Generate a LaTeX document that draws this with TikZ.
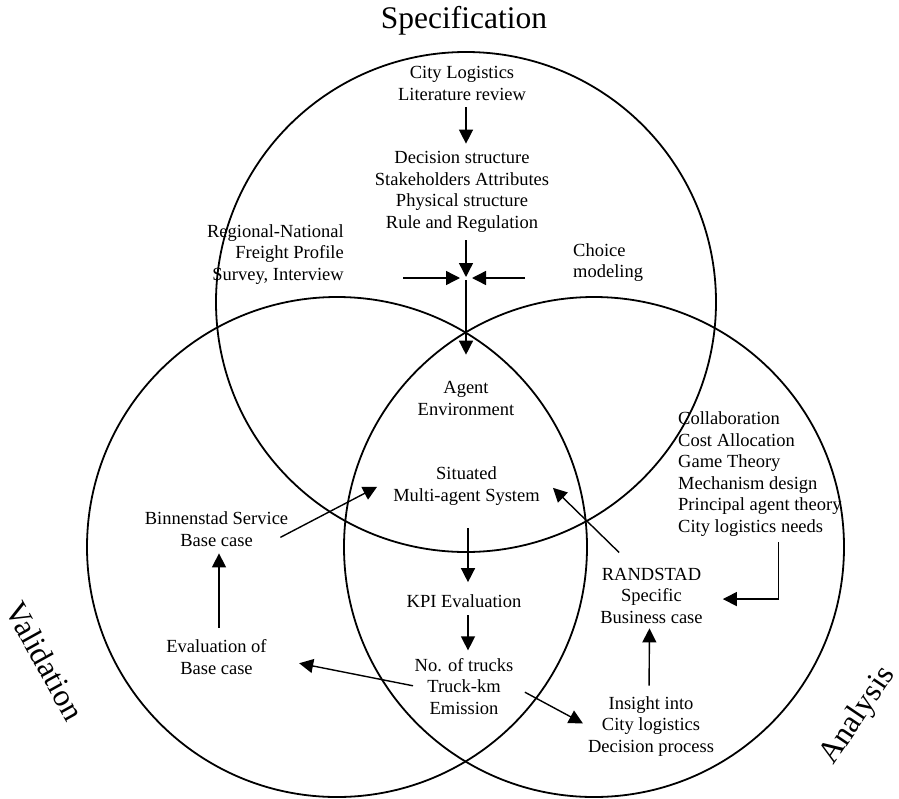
\documentclass[tikz,border=0pt]{standalone}
\usepackage{fontspec}
\setmainfont{Liberation Serif}
\usetikzlibrary{arrows.meta,calc}
\begin{document}
\begin{tikzpicture}[x=1pt,y=-1pt,
  ring/.style={line width=1.8pt},
  link/.style={line width=1.4pt,-{Triangle[length=14pt,width=14pt]}},
  txt/.style={inner sep=0pt,align=center,font=\fontsize{18.5}{21.5}\selectfont},
  head/.style={inner sep=0pt,font=\fontsize{31.5}{36}\selectfont}]
\useasboundingbox (0,0) rectangle (899,798);

% the three overlapping circles
\draw[ring] (466,302) circle[radius=250pt];
\draw[ring] (337,547) circle[radius=250pt];
\draw[ring] (594,547) circle[radius=250pt];

% circle titles
\node[head, anchor=base] (spec) at (464,28) {Specification};
\node[head, rotate=-61] (valid) at (45,661) {Validation};
\node[head, rotate=56] (anal) at (858,716) {Analysis};

% text blocks (base anchor = baseline of the last line)
\node[txt, anchor=base] (lit) at (462,100) {City Logistics\\Literature review};
\node[txt, anchor=base] (dec) at (462,228) {Decision structure\\Stakeholders Attributes\\Physical structure\\Rule and Regulation};
\node[txt, align=right, anchor=base east] (reg) at (344,280) {Regional-National\\Freight Profile\\Survey, Interview};
\node[txt, align=left, anchor=base west] (choice) at (573,277.5) {Choice\\modeling};
\node[txt, anchor=base] (agent) at (466,415) {Agent\\Environment};
\node[txt, anchor=base] (mas) at (466.5,501) {Situated\\Multi-agent System};
\node[txt, anchor=base] (binn) at (216.5,546) {Binnenstad Service\\Base case};
\node[txt, anchor=base] (evalb) at (216.5,674) {Evaluation of\\Base case};
\node[txt, anchor=base] (kpi) at (464,607) {KPI Evaluation};
\node[txt, anchor=base] (trucks) at (464,714) {No. of trucks\\Truck-km\\Emission};
\node[txt, align=left, anchor=base west] (collab) at (678,532) {Collaboration\\Cost Allocation\\Game Theory\\Mechanism design\\Principal agent theory\\City logistics needs};
\node[txt, anchor=base] (rand) at (651.5,623) {RANDSTAD\\Specific\\Business case};
\node[txt, anchor=base] (insight) at (651,752) {Insight into\\City logistics\\Decision process};

% junction where the specification inputs meet
\coordinate (j) at (466,278);
\coordinate (jl) at (403,278);
\coordinate (jr) at (525,278);

% connectors
\draw[link, shorten <=7pt, shorten >=7.4pt] (lit.south -| j) -- (dec.north -| j);
\draw[link, shorten <=8pt, shorten >=1pt] (dec.south -| j) -- (j);
\draw[link, shorten >=6pt] (jl) -- (j);
\draw[link, shorten >=6pt] (jr) -- (j);
\draw[link, shorten <=2pt, shorten >=26.4pt] (j) -- (agent.north -| j);
\draw[link, shorten <=23pt, shorten >=11.8pt] ([xshift=1.5pt]mas.south) -- ([xshift=1.5pt]mas.south |- kpi.north);
\draw[link, shorten <=8pt, shorten >=7.4pt] ([xshift=4pt]kpi.south) -- ([xshift=4pt]trucks.north);
\draw[link, shorten <=1.5pt, shorten >=33pt] (trucks.west) -- (evalb.east);
\draw[link, shorten <=12.9pt, shorten >=5.6pt] (trucks.east) -- (insight.west);
\draw[link, shorten <=11.4pt, shorten >=7pt] ([xshift=2.5pt]evalb.north) -- ([xshift=2.5pt]binn.south);
\draw[link] ($(binn.south east)+(-8,-9)$) -- ($(mas.west)+(-16,1)$);
\draw[link] ($(rand.north west)+(19,-15)$) -- ($(mas.east)+(13,2)$);
\draw[link] ($(collab.south)+(18.5,6)$) |- ($(rand.east)+(20,3.6)$);
\draw[link, shorten <=10.4pt, shorten >=5pt] ([xshift=-2pt]insight.north) -- ([xshift=-2pt]rand.south);
\end{tikzpicture}
\end{document}
